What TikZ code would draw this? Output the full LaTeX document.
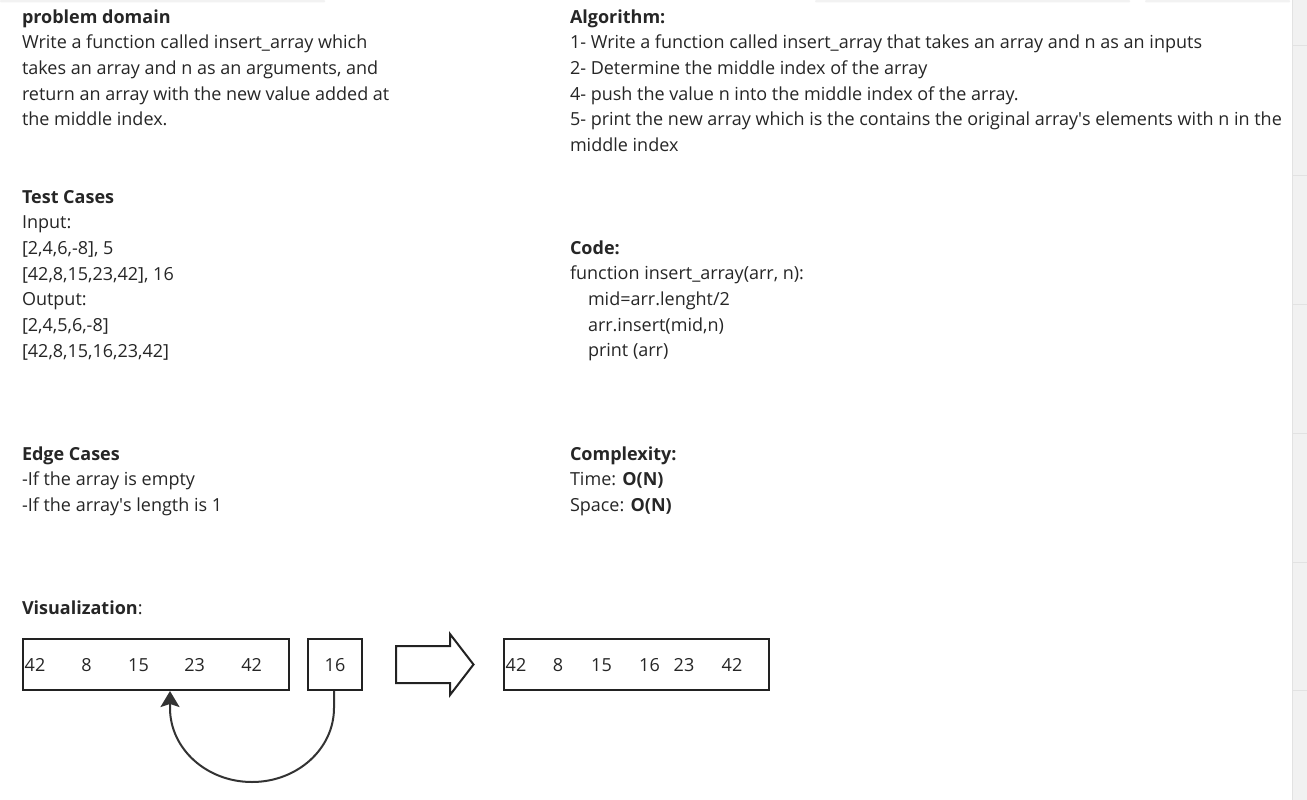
\documentclass[tikz,border=0pt]{standalone}
\usepackage{fontspec}
\setmainfont{Open Sans}
\usetikzlibrary{arrows.meta}
\definecolor{textc}{HTML}{262626}
\definecolor{linec}{HTML}{222222}
\definecolor{arcc}{HTML}{333333}
\definecolor{stripc}{HTML}{F1F1F1}
\definecolor{stripl}{HTML}{E2E2E2}
\tikzset{
  txt/.style={anchor=base west, inner sep=0pt, outer sep=0pt, align=left, text=textc,
    font=\fontsize{18}{25.7}\selectfont},
  num/.style={inner sep=0pt, text=textc, font=\fontsize{18}{20}\selectfont, anchor=base},
  arrbox/.style={draw=linec, line width=2pt, inner sep=0pt, fill=white},
  hint/.style={fill=black!5, draw=none},
}
\begin{document}
\begin{tikzpicture}[x=1pt,y=-1pt]
\useasboundingbox (0,0) rectangle (1307,800);
\fill[white] (0,0) rectangle (1307,800);
% right side strip
\fill[stripc] (1292,0) rectangle (1307,800);
\draw[stripl, line width=1pt] (1292,0) -- (1292,800);
\foreach \yy in {46,175,304,433,562,690} \draw[stripl, line width=1pt] (1292,\yy) -- (1307,\yy);
% faint top shadows
\fill[hint, rounded corners=1pt] (0,0) rectangle (325,2.5);
\fill[hint, rounded corners=1pt] (815,0) rectangle (1130,2.5);
\fill[hint, rounded corners=1pt] (1145,0) rectangle (1290,2.5);

% left column (anchored at baseline of last line)
\node[txt] (pd) at (22,125.8) {\textbf{problem domain}\\Write a function called insert\_array which\\takes an array and n as an arguments, and\\return an array with the new value added at\\the middle index.};
\node[txt] (tc) at (22,357.2) {\textbf{Test Cases}\\Input:\\{[2,4,6,-8], 5}\\{[42,8,15,23,42], 16}\\Output:\\{[2,4,5,6,-8]}\\{[42,8,15,16,23,42]}};
\node[txt] (ec) at (22,511.4) {\textbf{Edge Cases}\\-If the array is empty\\-If the array\textquotesingle s length is 1};
\node[txt] (vis) at (22,614) {\textbf{Visualization}:};

% right column
\node[txt] (alg) at (570,151.5) {\textbf{Algorithm:}\\1- Write a function called insert\_array that takes an array and n as an inputs\\2- Determine the middle index of the array\\4- push the value n into the middle index of the array.\\5- print the new array which is the contains the original array\textquotesingle s elements with n in the\\middle index};
\node[txt] (code) at (570,356.8) {\textbf{Code:}\\function insert\_array(arr, n):\\\hspace*{18pt}mid=arr.lenght/2\\\hspace*{18pt}arr.insert(mid,n)\\\hspace*{18pt}print (arr)};
\node[txt] (cx) at (570,511.4) {\textbf{Complexity:}\\Time: \textbf{O(N)}\\Space: \textbf{O(N)}};

% visualization boxes
\node[arrbox, minimum width=266pt, minimum height=51pt] (a1) at (156,664.5) {};
\node[arrbox, minimum width=54pt, minimum height=51pt] (b16) at (334.5,664.5) {};
\node[arrbox, minimum width=265pt, minimum height=51pt] (a2) at (636.5,664.5) {};

\foreach \xx/\t [count=\i] in {35/42,86.5/8,138.5/15,194.7/23,251.7/42}
  \node[num] (a1n\i) at (\xx,671) {\t};
\node[num] (b16n) at (335,671) {16};
\foreach \xx/\t [count=\i] in {516/42,558/8,601.5/15,649.5/16,684/23,732/42}
  \node[num] (a2n\i) at (\xx,671) {\t};

% block arrow
\draw[linec, line width=2pt, fill=white, line join=miter]
  (396,646) -- (450,646) -- (450,634) -- (473.5,664.5) -- (450,695) -- (450,683) -- (396,683) -- cycle;

% curved arrow
\coordinate (c1) at (334,708);
\coordinate (tgt) at (a1.south -| 170,0);
\draw[arcc, line width=2pt, -{Stealth[length=16pt,width=19pt,inset=3pt,fill=arcc]}]
  (b16.south -| 334,0) -- (c1) arc[start angle=0, end angle=180, x radius=82, y radius=74] -- (tgt);
\end{tikzpicture}
\end{document}
